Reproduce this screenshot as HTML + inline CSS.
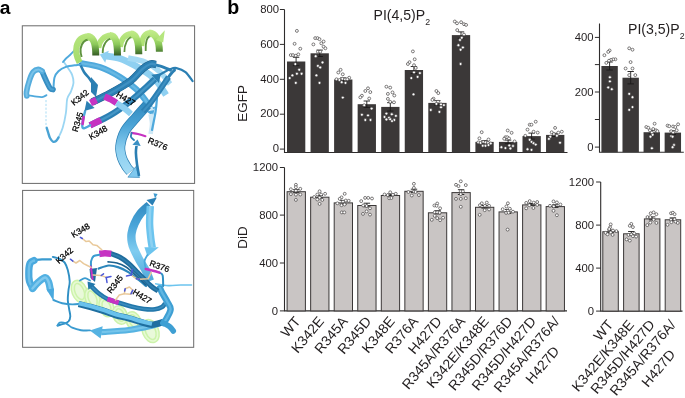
<!DOCTYPE html>
<html><head><meta charset="utf-8"><title>Figure</title>
<style>html,body{margin:0;padding:0;background:#fff}svg{display:block}</style></head>
<body>
<svg width="685" height="398" viewBox="0 0 685 398">
<rect width="685" height="398" fill="#fff"/>
<g><defs><linearGradient id="gleg" x1="0" y1="30" x2="0" y2="56" gradientUnits="userSpaceOnUse"><stop offset="0" stop-color="#c3ec8c"/><stop offset="0.27" stop-color="#b2e379"/><stop offset="0.55" stop-color="#8cc95a"/><stop offset="0.8" stop-color="#568a39"/><stop offset="1" stop-color="#335722"/></linearGradient><linearGradient id="garc" x1="0" y1="30" x2="0" y2="62" gradientUnits="userSpaceOnUse"><stop offset="0" stop-color="#c3ec8c"/><stop offset="0.22" stop-color="#b2e379"/><stop offset="1" stop-color="#a6dc6e"/></linearGradient><linearGradient id="gd3" x1="0" y1="100" x2="0" y2="175" gradientUnits="userSpaceOnUse"><stop offset="0" stop-color="#2f86bb"/><stop offset="0.33" stop-color="#4aa3d6"/><stop offset="0.66" stop-color="#8ccff0"/><stop offset="1" stop-color="#a5dcf5"/></linearGradient></defs>
<rect x="22.3" y="25.8" width="172.3" height="157.6" fill="#fff" stroke="#6a6a6a" stroke-width="1"/>
<path d="M63.4 61.3C64.2 62.5 67.0 66.5 68.5 68.8C70.0 71.1 71.4 72.8 72.2 75.1C73.0 77.4 73.7 79.9 73.5 82.6C73.3 85.3 72.0 88.7 71.0 91.4C70.0 94.1 68.0 95.3 67.2 98.9C66.4 102.5 66.7 108.0 65.9 112.8C65.2 117.6 63.9 123.7 62.7 127.8C61.5 131.9 59.2 135.9 58.5 137.5" fill="none" stroke="#9bd6f3" stroke-width="1.8" stroke-linecap="round" stroke-linejoin="round" />
<path d="M58.5 137.5C58.1 138.1 56.9 140.3 56.0 141.0C55.1 141.7 54.1 142.2 53.1 141.7C52.1 141.2 50.8 139.4 50.0 138.0C49.2 136.6 48.8 134.7 48.3 133.0C47.8 131.3 47.0 128.7 46.7 127.8" fill="none" stroke="#4aa3d4" stroke-width="2.4" stroke-linecap="round" stroke-linejoin="round" />
<path d="M46 100V127" stroke="#a9dcf5" stroke-width="1" stroke-dasharray="2.2 1.6" fill="none"/>
<path d="M63.0 62.0C63.5 61.4 64.8 59.7 66.0 58.5C67.2 57.3 68.5 56.4 70.0 55.0C71.5 53.6 74.2 50.8 75.0 50.0" fill="none" stroke="#4fa9dc" stroke-width="1.8" stroke-linecap="round" stroke-linejoin="round" />
<path d="M106.0 56.0C108.3 56.4 115.3 57.0 120.0 58.5C124.7 60.0 129.0 62.2 134.0 65.0C139.0 67.8 146.0 72.0 150.0 75.0C154.0 78.0 155.3 79.7 158.0 83.0C160.7 86.3 164.7 93.0 166.0 95.0" fill="none" stroke="#8fd0f1" stroke-width="6.6" stroke-linecap="butt" stroke-linejoin="round"/>
<path d="M99.8 54.6L108.8 50.7L105.2 62.8Z" fill="#8fd0f1"/>
<path d="M128.0 58.0C130.8 58.7 139.7 59.7 145.0 62.0C150.3 64.3 155.8 68.3 160.0 72.0C164.2 75.7 168.3 82.0 170.0 84.0" fill="none" stroke="#a5daf4" stroke-width="5.5" stroke-linecap="butt" stroke-linejoin="round"/>
<path d="M80.0 63.0C83.3 63.7 93.4 64.8 100.1 67.1C106.8 69.4 114.2 73.4 120.2 77.1C126.2 80.8 132.0 85.2 136.3 89.2C140.6 93.2 143.7 97.9 146.0 101.0C148.3 104.1 149.3 106.8 150.0 108.0" fill="none" stroke="#4fa9dc" stroke-width="6.2" stroke-linecap="butt" stroke-linejoin="round"/><path d="M80.0 63.0C83.3 63.7 93.4 64.8 100.1 67.1C106.8 69.4 114.2 73.4 120.2 77.1C126.2 80.8 132.0 85.2 136.3 89.2C140.6 93.2 143.7 97.9 146.0 101.0C148.3 104.1 149.3 106.8 150.0 108.0" fill="none" stroke="#7cc4ea" stroke-width="2.2" stroke-linecap="butt" stroke-linejoin="round" opacity="0.55"/>
<path d="M153.0 116.0L144.9 110.6L155.1 106.5Z" fill="#4fa9dc"/>
<path d="M150.6 134.0C150.8 132.3 152.0 127.3 152.0 124.0C152.0 120.7 150.8 115.7 150.5 114.0" fill="none" stroke="#cfe9f6" stroke-width="4.5" stroke-linecap="butt" stroke-linejoin="round"/>
<path d="M148.8 104.0L154.5 110.1L145.4 111.7Z" fill="#cfe9f6"/>
<path d="M157.0 98.0C156.8 100.3 156.3 106.7 155.5 112.0C154.7 117.3 152.6 127.0 152.0 130.0" fill="none" stroke="#4fa9dc" stroke-width="2.2" stroke-linecap="round" stroke-linejoin="round" />
<path d="M80.0 64.0C80.7 65.3 82.5 69.7 84.0 72.0C85.5 74.3 87.5 76.0 89.0 78.0C90.5 80.0 92.3 83.0 93.0 84.0" fill="none" stroke="#2b7fb3" stroke-width="2.6" stroke-linecap="round" stroke-linejoin="round" />
<path d="M91 77L98 85L96 97L91 92Z" fill="#2b7fb3"/>
<path d="M147.0 105.0C145.2 107.1 139.7 113.2 136.0 117.5C132.3 121.8 127.6 126.2 125.0 131.0C122.4 135.8 120.8 141.5 120.3 146.0C119.8 150.5 120.9 154.4 122.0 158.0C123.1 161.6 125.6 165.2 127.0 167.5C128.4 169.8 129.9 170.8 130.5 171.5" fill="none" stroke="#2b7fb3" stroke-width="10" />
<path d="M147.0 105.0C145.2 107.1 139.7 113.2 136.0 117.5C132.3 121.8 127.6 126.2 125.0 131.0C122.4 135.8 120.8 141.5 120.3 146.0C119.8 150.5 120.9 154.4 122.0 158.0C123.1 161.6 125.6 165.2 127.0 167.5C128.4 169.8 129.9 170.8 130.5 171.5" fill="none" stroke="url(#gd3)" stroke-width="8.6" />
<path d="M139.5 177.5L127.9 177.2L135.8 166.6Z" fill="#7fc8ee" stroke="#2b7fb3" stroke-width="0.6" stroke-linejoin="round"/>
<path d="M174.5 70.1C173.9 70.7 172.2 72.3 171.0 73.8C169.8 75.3 167.7 78.3 167.0 79.2" fill="none" stroke="#2b7fb3" stroke-width="3.0" stroke-linecap="round" stroke-linejoin="round" />
<path d="M168.5 77.1C167.2 79.1 163.4 84.8 160.4 89.2C157.4 93.6 153.3 99.5 150.4 103.2C147.5 106.9 144.2 110.1 143.0 111.5" fill="none" stroke="#2b7fb3" stroke-width="5.6" stroke-linecap="butt" stroke-linejoin="round"/><path d="M168.5 77.1C167.2 79.1 163.4 84.8 160.4 89.2C157.4 93.6 153.3 99.5 150.4 103.2C147.5 106.9 144.2 110.1 143.0 111.5" fill="none" stroke="#4f9fce" stroke-width="2.0" stroke-linecap="butt" stroke-linejoin="round" opacity="0.55"/>
<path d="M139.0 176.0C138.7 173.9 137.4 167.2 136.9 163.3C136.4 159.4 136.0 155.6 135.9 152.7C135.8 149.8 136.4 147.1 136.5 146.0" fill="none" stroke="#2b7fb3" stroke-width="2.6" stroke-linecap="butt" stroke-linejoin="round"/>
<path d="M137.5 139.5L140.7 146.1L132.4 144.8Z" fill="#3a90c4"/>
<path d="M131.6 132.9C132.7 133.1 135.7 133.4 138.0 134.0C140.3 134.6 144.2 135.8 145.4 136.2" fill="none" stroke="#c633c2" stroke-width="2.2" stroke-linecap="round" stroke-linejoin="round" />
<path d="M131.6 133.0C131.5 133.7 130.6 135.8 131.0 137.0C131.4 138.2 133.5 139.5 134.0 140.0" fill="none" stroke="#2b7fb3" stroke-width="1.8" stroke-linecap="round" stroke-linejoin="round" />
<path d="M90.1 125.3C93.4 123.6 103.5 119.3 110.2 115.3C116.9 111.3 124.3 105.9 130.3 101.2C136.3 96.5 142.3 90.8 146.4 87.1C150.5 83.4 153.6 80.3 155.0 79.0" fill="none" stroke="#2b7fb3" stroke-width="6.4" stroke-linecap="butt" stroke-linejoin="round"/><path d="M90.1 125.3C93.4 123.6 103.5 119.3 110.2 115.3C116.9 111.3 124.3 105.9 130.3 101.2C136.3 96.5 142.3 90.8 146.4 87.1C150.5 83.4 153.6 80.3 155.0 79.0" fill="none" stroke="#5aa9d6" stroke-width="2.2" stroke-linecap="butt" stroke-linejoin="round" opacity="0.55"/>
<path d="M161.0 73.5L158.9 83.0L151.3 74.8Z" fill="#2b7fb3"/>
<path d="M90.1 125.3C91.1 124.8 94.2 123.3 96.0 122.4C97.8 121.5 100.2 120.4 101.0 120.0" fill="none" stroke="#c633c2" stroke-width="6.4" stroke-linecap="butt" stroke-linejoin="round"/>
<path d="M160.0 74.5C161.8 73.6 167.8 70.2 170.5 69.1C173.2 68.0 174.0 67.6 176.5 68.1C179.0 68.6 182.8 69.9 185.5 72.1C188.2 74.3 191.4 79.6 192.6 81.1" fill="none" stroke="#2b7fb3" stroke-width="2.2" stroke-linecap="round" stroke-linejoin="round" />
<path d="M85.1 111.3C84.8 112.4 83.9 115.5 83.4 118.0C82.9 120.5 82.2 124.3 82.3 126.0C82.4 127.7 82.7 128.4 84.0 128.3C85.3 128.2 89.1 125.8 90.1 125.3" fill="none" stroke="#4fa9dc" stroke-width="2.4" stroke-linecap="round" stroke-linejoin="round" />
<path d="M83.6 117.0C83.4 118.2 82.8 122.8 82.6 124.0" fill="none" stroke="#c633c2" stroke-width="2.6" stroke-linecap="round" stroke-linejoin="round" />
<path d="M150.4 64.0C152.1 64.3 157.1 65.1 160.4 66.1C163.8 67.1 168.8 69.4 170.5 70.1" fill="none" stroke="#2b7fb3" stroke-width="3.0" stroke-linecap="round" stroke-linejoin="round" />
<path d="M92.1 102.2C95.1 100.7 103.8 96.7 110.2 93.2C116.6 89.7 125.0 85.1 130.3 81.1C135.7 77.1 139.0 71.9 142.3 69.1C145.7 66.2 148.1 64.8 150.4 64.0C152.7 63.2 155.1 64.5 156.0 64.6" fill="none" stroke="#1c5b85" stroke-width="7.3999999999999995" stroke-linecap="butt" stroke-linejoin="round"/><path d="M92.1 102.2C95.1 100.7 103.8 96.7 110.2 93.2C116.6 89.7 125.0 85.1 130.3 81.1C135.7 77.1 139.0 71.9 142.3 69.1C145.7 66.2 148.1 64.8 150.4 64.0C152.7 63.2 155.1 64.5 156.0 64.6" fill="none" stroke="#2b7fb3" stroke-width="6.6" stroke-linecap="butt" stroke-linejoin="round"/><path d="M92.1 102.2C95.1 100.7 103.8 96.7 110.2 93.2C116.6 89.7 125.0 85.1 130.3 81.1C135.7 77.1 139.0 71.9 142.3 69.1C145.7 66.2 148.1 64.8 150.4 64.0C152.7 63.2 155.1 64.5 156.0 64.6" fill="none" stroke="#4f9fce" stroke-width="2.3" stroke-linecap="butt" stroke-linejoin="round" opacity="0.55"/>
<path d="M84.5 111.0L86.6 100.7L94.6 108.1Z" fill="#2b7fb3"/>
<path d="M90.5 103.0C91.5 102.5 95.5 100.5 96.5 100.0" fill="none" stroke="#c633c2" stroke-width="6.8" stroke-linecap="butt" stroke-linejoin="round"/>
<path d="M104.5 96.5C105.6 97.0 109.0 98.4 111.0 99.5C113.0 100.6 115.6 102.4 116.5 103.0" fill="none" stroke="#c633c2" stroke-width="6.4" stroke-linecap="butt" stroke-linejoin="round"/>
<path d="M116.5 103.0C117.8 103.8 121.6 106.2 124.0 108.0C126.4 109.8 129.8 113.0 131.0 114.0" fill="none" stroke="#8fd0f1" stroke-width="6" stroke-linecap="butt" stroke-linejoin="round"/>
<path d="M26.4 95.2C27.8 95.4 32.0 96.1 34.6 96.4C37.2 96.7 40.1 97.3 42.1 97.1C44.1 96.9 45.8 95.5 46.5 95.2" fill="none" stroke="#4fa9dc" stroke-width="1.8" stroke-linecap="round" stroke-linejoin="round" />
<path d="M53.4 89.0C53.6 87.1 53.7 80.5 54.5 77.6C55.3 74.6 56.5 73.1 58.4 71.3C60.3 69.5 62.8 68.0 65.9 66.9C69.0 65.9 74.7 65.4 77.2 65.0C79.7 64.6 80.4 64.5 81.0 64.4" fill="none" stroke="#4fa9dc" stroke-width="2.0" stroke-linecap="round" stroke-linejoin="round" />
<path d="M42.1 71.3C42.7 72.8 44.5 77.3 45.9 80.1C47.2 82.9 49.0 86.7 50.2 88.3C51.4 89.9 52.5 89.3 53.0 89.5" fill="none" stroke="#378ec2" stroke-width="5.6" stroke-linecap="round" stroke-linejoin="round"/><path d="M42.1 71.3C42.7 72.8 44.5 77.3 45.9 80.1C47.2 82.9 49.0 86.7 50.2 88.3C51.4 89.9 52.5 89.3 53.0 89.5" fill="none" stroke="#5fb2e0" stroke-width="2.0" stroke-linecap="round" stroke-linejoin="round" opacity="0.55"/>
<path d="M26.8 96.0C26.8 95.3 26.1 94.7 26.5 92.0C26.9 89.3 28.4 83.4 29.5 80.1C30.6 76.8 31.8 73.7 33.3 71.9C34.8 70.1 36.8 69.5 38.3 69.4C39.8 69.3 41.5 71.0 42.1 71.3" fill="none" stroke="#55addd" stroke-width="5.6" stroke-linecap="round" stroke-linejoin="round"/><path d="M26.8 96.0C26.8 95.3 26.1 94.7 26.5 92.0C26.9 89.3 28.4 83.4 29.5 80.1C30.6 76.8 31.8 73.7 33.3 71.9C34.8 70.1 36.8 69.5 38.3 69.4C39.8 69.3 41.5 71.0 42.1 71.3" fill="none" stroke="#9ad6f3" stroke-width="2.0" stroke-linecap="round" stroke-linejoin="round" opacity="0.55"/>
<path d="M79.6 62.4C76.6 57 75.6 51.5 76.6 46.5C78 40.5 82 36.6 88.6 36.4" fill="none" stroke="url(#garc)" stroke-width="6.2"/>
<path d="M98.5 48C99.0 41 104.0 35.4 111.1 35.4" fill="none" stroke="url(#garc)" stroke-width="5.6"/>
<path d="M120.2 47C120.7 40 124.80000000000001 33.9 131.9 33.9" fill="none" stroke="url(#garc)" stroke-width="5.6"/>
<path d="M141.5 46C142.0 39 143.5 32.9 150.6 32.9" fill="none" stroke="url(#garc)" stroke-width="5.6"/>
<path d="M81.6 57C79.8 51 80.4 45.5 83.5 42C85 40.5 86.5 39.8 88.5 39.6" fill="none" stroke="#5f933e" stroke-width="2"/>
<path d="M102.7 53C102.5 45 107.0 38.6 111.5 38.6" fill="none" stroke="#5f933e" stroke-width="1.8"/>
<path d="M124.4 52C124.2 44 127.80000000000001 37.1 132.3 37.1" fill="none" stroke="#5f933e" stroke-width="1.8"/>
<path d="M145.7 51C145.5 43 146.5 36.1 151 36.1" fill="none" stroke="#5f933e" stroke-width="1.8"/>
<path d="M87.4 36.4C93 36.4 95.8 42.9 95.8 55.5" fill="none" stroke="url(#gleg)" stroke-width="7"/>
<path d="M109.9 35.4C115.5 35.4 117.5 41.9 117.5 55.5" fill="none" stroke="url(#gleg)" stroke-width="7"/>
<path d="M130.70000000000002 33.9C136.3 33.9 138.8 40.4 138.8 54.2" fill="none" stroke="url(#gleg)" stroke-width="7"/>
<path d="M149.4 32.9C155 32.9 159.4 39.4 159.4 51.7" fill="none" stroke="url(#gleg)" stroke-width="7"/>
<path d="M155.8 40L164.8 30.2L163.2 42.5Z" fill="#b5e67e"/>
<text transform="translate(74 106) rotate(-39)" font-family="Liberation Sans, Arial, sans-serif" font-size="8.5" fill="#000" stroke="#000" stroke-width="0.25">K342</text>
<text transform="translate(77.5 132.6) rotate(-73)" font-family="Liberation Sans, Arial, sans-serif" font-size="8.5" fill="#000" stroke="#000" stroke-width="0.25">R345</text>
<text transform="translate(91 140) rotate(-30)" font-family="Liberation Sans, Arial, sans-serif" font-size="8.5" fill="#000" stroke="#000" stroke-width="0.25">K348</text>
<text transform="translate(115.6 96.3) rotate(30)" font-family="Liberation Sans, Arial, sans-serif" font-size="8.5" fill="#000" stroke="#000" stroke-width="0.25">H427</text>
<text transform="translate(147.3 142.8) rotate(22)" font-family="Liberation Sans, Arial, sans-serif" font-size="8.5" fill="#000" stroke="#000" stroke-width="0.25">R376</text></g>
<g><defs><linearGradient id="ghp" x1="0" y1="200" x2="0" y2="285" gradientUnits="userSpaceOnUse"><stop offset="0" stop-color="#2f88be"/><stop offset="0.3" stop-color="#4aa5d9"/><stop offset="0.6" stop-color="#7fccf0"/><stop offset="1" stop-color="#4aa5d9"/></linearGradient></defs>
<rect x="22.6" y="190.4" width="171.1" height="156.9" fill="#fff" stroke="#6a6a6a" stroke-width="1"/>
<ellipse cx="79.5" cy="291.5" rx="6" ry="10" transform="rotate(-22 79.5 291.5)" fill="#e9f9da" stroke="#cdf3ab" stroke-width="4.6"/>
<ellipse cx="79.5" cy="291.5" rx="6" ry="10" transform="rotate(-22 79.5 291.5)" fill="none" stroke="#e6fad3" stroke-width="1.6"/>
<ellipse cx="92.5" cy="298.5" rx="5.5" ry="9.5" transform="rotate(-22 92.5 298.5)" fill="#e9f9da" stroke="#cdf3ab" stroke-width="4.6"/>
<ellipse cx="92.5" cy="298.5" rx="5.5" ry="9.5" transform="rotate(-22 92.5 298.5)" fill="none" stroke="#e6fad3" stroke-width="1.6"/>
<ellipse cx="106.5" cy="307" rx="5.5" ry="8.5" transform="rotate(-22 106.5 307)" fill="#e9f9da" stroke="#cdf3ab" stroke-width="4.6"/>
<ellipse cx="106.5" cy="307" rx="5.5" ry="8.5" transform="rotate(-22 106.5 307)" fill="none" stroke="#e6fad3" stroke-width="1.6"/>
<ellipse cx="120" cy="315" rx="5.5" ry="8" transform="rotate(-22 120 315)" fill="#e9f9da" stroke="#cdf3ab" stroke-width="4.6"/>
<ellipse cx="120" cy="315" rx="5.5" ry="8" transform="rotate(-22 120 315)" fill="none" stroke="#e6fad3" stroke-width="1.6"/>
<ellipse cx="133.5" cy="321" rx="5.5" ry="8" transform="rotate(-22 133.5 321)" fill="#e9f9da" stroke="#cdf3ab" stroke-width="4.6"/>
<ellipse cx="133.5" cy="321" rx="5.5" ry="8" transform="rotate(-22 133.5 321)" fill="none" stroke="#e6fad3" stroke-width="1.6"/>
<ellipse cx="150.5" cy="331" rx="6.5" ry="10.5" transform="rotate(-22 150.5 331)" fill="#e9f9da" stroke="#cdf3ab" stroke-width="4.6"/>
<ellipse cx="150.5" cy="331" rx="6.5" ry="10.5" transform="rotate(-22 150.5 331)" fill="none" stroke="#e6fad3" stroke-width="1.6"/>
<path d="M101.0 332.2C105.6 331.8 120.3 331.1 128.8 330.0C137.3 328.9 146.1 326.9 152.0 325.6C157.9 324.3 162.0 322.6 164.0 322.0" fill="none" stroke="#56b3e2" stroke-width="6.2" stroke-linecap="butt" stroke-linejoin="round"/><path d="M101.0 332.2C105.6 331.8 120.3 331.1 128.8 330.0C137.3 328.9 146.1 326.9 152.0 325.6C157.9 324.3 162.0 322.6 164.0 322.0" fill="none" stroke="#8fd3f3" stroke-width="2.2" stroke-linecap="butt" stroke-linejoin="round" opacity="0.55"/>
<path d="M89.8 330.4L102.7 326.3L100.6 338.5Z" fill="#56b3e2"/>
<path d="M52.8 256.9C53.9 257.2 57.7 257.9 59.7 258.8C61.7 259.8 63.4 260.7 64.7 262.6C66.0 264.5 67.0 267.0 67.8 270.1C68.6 273.2 69.6 278.1 69.7 281.4C69.8 284.7 68.8 286.9 68.5 290.0C68.2 293.1 67.7 296.9 67.8 300.0C67.9 303.1 68.7 306.1 69.1 308.8C69.5 311.5 70.4 314.3 70.3 316.4C70.2 318.5 69.7 320.1 68.5 321.4C67.3 322.6 65.2 323.2 63.4 323.9C61.6 324.6 58.5 325.3 57.5 325.6" fill="none" stroke="#2f8fc4" stroke-width="1.9" stroke-linecap="round" stroke-linejoin="round" />
<path d="M57.5 325.6C57.9 325.1 58.3 323.0 59.7 322.6C61.1 322.2 63.8 322.5 65.9 323.3C68.0 324.1 69.7 326.6 72.2 327.7C74.7 328.8 78.0 329.8 81.0 330.2C84.0 330.6 88.5 330.4 90.0 330.4" fill="none" stroke="#3a9bd0" stroke-width="1.9" stroke-linecap="round" stroke-linejoin="round" />
<path d="M53.4 300.0C54.9 300.5 59.1 302.5 62.2 303.2C65.3 303.9 69.3 304.3 72.2 304.4C75.1 304.5 78.5 303.9 79.8 303.8" fill="none" stroke="#3a9bd0" stroke-width="1.9" stroke-linecap="round" stroke-linejoin="round" />
<path d="M50.9 259.4C49.4 259.4 44.9 259.2 42.0 259.3C39.1 259.4 34.8 260.0 33.3 260.1" fill="none" stroke="#3a9bd0" stroke-width="2.2" stroke-linecap="round" stroke-linejoin="round" />
<path d="M34.0 260.6C33.4 261.0 31.1 261.3 30.2 263.0C29.3 264.7 28.9 267.9 28.8 271.0C28.7 274.1 28.8 278.7 29.5 281.5C30.2 284.3 32.2 286.9 32.8 288.0" fill="none" stroke="#4aa9de" stroke-width="7.2" stroke-linecap="round" stroke-linejoin="round"/><path d="M34.0 260.6C33.4 261.0 31.1 261.3 30.2 263.0C29.3 264.7 28.9 267.9 28.8 271.0C28.7 274.1 28.8 278.7 29.5 281.5C30.2 284.3 32.2 286.9 32.8 288.0" fill="none" stroke="#8dd2f3" stroke-width="2.5" stroke-linecap="round" stroke-linejoin="round" opacity="0.55"/>
<path d="M32.5 288.5C33.5 287.4 36.4 283.8 38.5 282.0C40.6 280.2 43.5 277.6 45.2 277.6C46.9 277.6 47.8 280.1 48.6 282.0C49.4 283.9 49.9 287.8 50.2 289.0" fill="none" stroke="#52b0e2" stroke-width="7.2" stroke-linecap="round" stroke-linejoin="round"/><path d="M32.5 288.5C33.5 287.4 36.4 283.8 38.5 282.0C40.6 280.2 43.5 277.6 45.2 277.6C46.9 277.6 47.8 280.1 48.6 282.0C49.4 283.9 49.9 287.8 50.2 289.0" fill="none" stroke="#a5dcf6" stroke-width="2.5" stroke-linecap="round" stroke-linejoin="round" opacity="0.55"/>
<path d="M46.6 289.5L54 288.5L53.6 301.2Z" fill="#4aa9de"/>
<path d="M78.6 304.0C80.7 304.5 86.9 306.0 91.1 307.1C95.3 308.2 99.5 309.5 103.7 310.9C107.9 312.3 112.0 314.1 116.2 315.3C120.4 316.6 124.6 317.2 128.8 318.4C133.0 319.5 137.4 321.1 141.3 322.2C145.2 323.2 148.4 324.7 152.0 324.7C155.6 324.7 161.2 322.4 163.0 322.0" fill="none" stroke="#1f6fa0" stroke-width="6.4" stroke-linecap="butt" stroke-linejoin="round"/>
<path d="M78.6 303.2C80.7 303.7 86.9 305.1 91.1 306.2C95.3 307.3 99.5 308.6 103.7 310.0C107.9 311.4 112.0 313.1 116.2 314.4C120.4 315.6 124.6 316.4 128.8 317.5C133.0 318.6 137.4 320.2 141.3 321.3C145.2 322.4 150.2 323.4 152.0 323.8" fill="none" stroke="#69c1ec" stroke-width="4.2" stroke-linecap="butt" stroke-linejoin="round"/>
<path d="M91.5 286.5C92.7 287.6 95.9 291.2 98.6 293.3C101.2 295.4 104.1 297.4 107.4 299.0C110.8 300.6 114.7 301.4 118.7 302.7C122.7 303.9 127.1 305.4 131.3 306.5C135.5 307.6 139.9 308.5 143.8 309.0C147.8 309.5 152.0 309.6 155.0 309.3C158.0 309.0 160.3 308.0 162.0 307.0C163.7 306.0 164.5 304.1 165.0 303.5" fill="none" stroke="#2277aa" stroke-width="4.6" stroke-linecap="butt" stroke-linejoin="round"/><path d="M91.5 286.5C92.7 287.6 95.9 291.2 98.6 293.3C101.2 295.4 104.1 297.4 107.4 299.0C110.8 300.6 114.7 301.4 118.7 302.7C122.7 303.9 127.1 305.4 131.3 306.5C135.5 307.6 139.9 308.5 143.8 309.0C147.8 309.5 152.0 309.6 155.0 309.3C158.0 309.0 160.3 308.0 162.0 307.0C163.7 306.0 164.5 304.1 165.0 303.5" fill="none" stroke="#4f9fce" stroke-width="1.6" stroke-linecap="butt" stroke-linejoin="round" opacity="0.55"/>
<path d="M87.5 281.5L95.5 283.9L88.4 289.8Z" fill="#2277aa"/>
<path d="M107.4 299.0C108.3 299.3 111.1 300.4 113.0 301.0C114.9 301.6 117.8 302.4 118.7 302.7" fill="none" stroke="#c633c2" stroke-width="4.8" stroke-linecap="butt" stroke-linejoin="round"/>
<path d="M160.0 288.0C160.3 288.8 160.8 290.4 162.0 292.6C163.2 294.8 165.6 298.6 167.0 301.3C168.4 304.0 170.6 306.2 170.6 308.9C170.6 311.6 168.2 315.3 167.0 317.7C165.8 320.1 164.0 322.1 163.4 323.0" fill="none" stroke="#3e9fd3" stroke-width="6.5" stroke-linecap="round" stroke-linejoin="round"/><path d="M160.0 288.0C160.3 288.8 160.8 290.4 162.0 292.6C163.2 294.8 165.6 298.6 167.0 301.3C168.4 304.0 170.6 306.2 170.6 308.9C170.6 311.6 168.2 315.3 167.0 317.7C165.8 320.1 164.0 322.1 163.4 323.0" fill="none" stroke="#7cc8ee" stroke-width="2.3" stroke-linecap="round" stroke-linejoin="round" opacity="0.55"/>
<path d="M163.4 323.0C164.4 323.6 167.8 325.2 169.5 326.5C171.2 327.8 172.7 330.2 173.3 331.0" fill="none" stroke="#3e9fd3" stroke-width="5.5" stroke-linecap="round" stroke-linejoin="round"/>
<path d="M155.7 283.8C157.8 284.1 164.1 285.4 168.3 285.6C172.5 285.8 176.9 285.1 180.8 285.0C184.7 284.9 189.7 285.0 191.5 285.0" fill="none" stroke="#6cc4ee" stroke-width="1.6" stroke-linecap="round" stroke-linejoin="round" />
<path d="M149.5 205.0C148.0 206.4 143.0 210.4 140.5 213.5C138.0 216.6 136.1 220.1 134.6 223.4C133.1 226.7 132.1 230.3 131.6 233.4C131.1 236.5 131.4 239.4 131.8 242.0C132.2 244.6 132.7 246.0 134.0 249.0C135.3 252.0 137.4 256.3 139.4 260.0C141.4 263.7 144.2 267.5 146.0 271.0C147.8 274.5 149.3 279.3 150.0 281.0" fill="none" stroke="url(#ghp)" stroke-width="8.4"/>
<path d="M146.5 200L156.8 197.5L152.5 205.5Z" fill="#2a7fb4"/>
<path d="M153.5 193.2L157.6 194L155 198.5Z" fill="#3f9bd0"/>
<path d="M150.3 206.0C150.2 208.9 149.5 218.1 149.6 223.4C149.7 228.7 150.4 234.0 150.8 238.0C151.2 242.0 152.0 245.9 152.2 247.5" fill="none" stroke="#6cc4ee" stroke-width="7.4" stroke-linecap="butt" stroke-linejoin="round"/><path d="M150.3 206.0C150.2 208.9 149.5 218.1 149.6 223.4C149.7 228.7 150.4 234.0 150.8 238.0C151.2 242.0 152.0 245.9 152.2 247.5" fill="none" stroke="#a8ddf6" stroke-width="2.6" stroke-linecap="butt" stroke-linejoin="round" opacity="0.55"/>
<path d="M144.4 247.3L158.8 247.3L147.5 256.5Z" fill="#6cc4ee"/>
<path d="M147.5 255.0C147.0 256.0 144.9 258.7 144.6 261.0C144.3 263.3 145.5 267.3 145.7 268.6" fill="none" stroke="#4aa9dc" stroke-width="1.8" stroke-linecap="round" stroke-linejoin="round" />
<path d="M159.5 272.6C160.0 273.0 162.0 273.0 162.6 275.2C163.2 277.4 163.1 284.2 163.2 286.0" fill="none" stroke="#2f8fc4" stroke-width="2.0" stroke-linecap="round" stroke-linejoin="round" />
<path d="M145.7 269.0C146.8 269.2 149.7 269.9 152.0 270.5C154.3 271.1 158.2 272.2 159.5 272.6" fill="none" stroke="#c633c2" stroke-width="2.4" stroke-linecap="round" stroke-linejoin="round" />
<path d="M98.6 268.6C100.3 268.1 105.3 265.7 108.7 265.5C112.1 265.3 115.3 266.2 118.7 267.4C122.1 268.5 125.5 270.3 128.8 272.4C132.2 274.5 135.9 277.7 138.8 280.0C141.7 282.3 144.8 285.0 146.0 286.0" fill="none" stroke="#2b86bb" stroke-width="2.2" stroke-linecap="round" stroke-linejoin="round" />
<path d="M108.0 261.9C109.5 262.1 114.0 262.1 117.0 263.0C120.0 263.9 122.8 264.9 126.0 267.0C129.2 269.1 132.7 272.5 136.0 275.5C139.3 278.5 144.3 283.4 146.0 285.0" fill="none" stroke="#1d618d" stroke-width="1.6" stroke-linecap="round" stroke-linejoin="round" />
<path d="M110.0 253.4C111.7 254.1 116.9 255.6 120.0 257.3C123.1 259.0 126.1 261.3 128.8 263.6C131.5 265.9 133.8 268.7 136.3 271.2C138.8 273.7 141.4 276.2 143.8 278.7C146.2 281.2 148.6 283.9 151.0 286.0C153.4 288.1 156.8 290.2 158.0 291.0" fill="none" stroke="#1f6c9c" stroke-width="5.0" stroke-linecap="butt" stroke-linejoin="round"/><path d="M110.0 253.4C111.7 254.1 116.9 255.6 120.0 257.3C123.1 259.0 126.1 261.3 128.8 263.6C131.5 265.9 133.8 268.7 136.3 271.2C138.8 273.7 141.4 276.2 143.8 278.7C146.2 281.2 148.6 283.9 151.0 286.0C153.4 288.1 156.8 290.2 158.0 291.0" fill="none" stroke="#3d8ec0" stroke-width="1.8" stroke-linecap="butt" stroke-linejoin="round" opacity="0.55"/>
<path d="M99.3 253.9C100.2 253.8 103.0 253.3 105.0 253.3C107.0 253.3 110.2 253.7 111.2 253.8" fill="none" stroke="#c633c2" stroke-width="6.6" stroke-linecap="butt" stroke-linejoin="round"/>
<path d="M99.3 254.8C98.3 255.0 95.0 255.1 93.6 256.1C92.2 257.2 91.5 259.2 91.1 261.1C90.7 263.0 91.1 266.3 91.1 267.4" fill="none" stroke="#3a9bd0" stroke-width="2.0" stroke-linecap="round" stroke-linejoin="round" />
<path d="M89.5 269L97 268L95 282L90.5 278Z" fill="#1f6c9c"/>
<path d="M90.8 266.5L92.6 279.0" fill="none" stroke="#c633c2" stroke-width="2.0" stroke-linecap="round" stroke-linejoin="round"/>
<path d="M80.0 280.5C80.8 280.1 83.3 278.2 85.0 278.2C86.7 278.2 89.2 280.1 90.0 280.5" fill="none" stroke="#3a9bd0" stroke-width="1.8" stroke-linecap="round" stroke-linejoin="round" />
<path d="M82.3 238.5L86.1 241.6L89.2 241.0L93.0 244.8L96.8 245.4L101.8 249.8" fill="none" stroke="#e9c99a" stroke-width="1.5" stroke-linecap="round" stroke-linejoin="round"/>
<path d="M80.4 237.3L82.3 238.5" fill="none" stroke="#4a57d8" stroke-width="1.5" stroke-linecap="round" stroke-linejoin="round"/>
<path d="M72.9 261.1L76.0 263.0L79.8 260.5L83.6 263.6L87.3 265.5L91.1 267.4" fill="none" stroke="#e9c99a" stroke-width="1.5" stroke-linecap="round" stroke-linejoin="round"/>
<path d="M70.4 259.2L72.9 261.1" fill="none" stroke="#4a57d8" stroke-width="1.5" stroke-linecap="round" stroke-linejoin="round"/>
<path d="M93.0 274.9L101.2 275.5L106.2 277.4" fill="none" stroke="#e9c99a" stroke-width="1.5" stroke-linecap="round" stroke-linejoin="round"/>
<path d="M101.2 275.5L103.5 273.8" fill="none" stroke="#4a57d8" stroke-width="1.5" stroke-linecap="round" stroke-linejoin="round"/>
<path d="M106.2 277.4L107.0 282.5" fill="none" stroke="#4a57d8" stroke-width="1.5" stroke-linecap="round" stroke-linejoin="round"/>
<path d="M106.2 277.4L111.0 276.5" fill="none" stroke="#4a57d8" stroke-width="1.5" stroke-linecap="round" stroke-linejoin="round"/>
<path d="M151.3 272.4L148.2 278.7L139.4 279.3L136.2 278.7L131.2 275.0" fill="none" stroke="#e9c99a" stroke-width="1.5" stroke-linecap="round" stroke-linejoin="round"/>
<path d="M131.2 275.0L132.5 269.5" fill="none" stroke="#4a57d8" stroke-width="1.5" stroke-linecap="round" stroke-linejoin="round"/>
<path d="M131.2 275.0L126.5 276.0" fill="none" stroke="#4a57d8" stroke-width="1.5" stroke-linecap="round" stroke-linejoin="round"/>
<path d="M139.4 279.3L136.2 278.7" fill="none" stroke="#4a57d8" stroke-width="1.5" stroke-linecap="round" stroke-linejoin="round"/>
<path d="M115.5 300.0L119.3 295.0L124.3 293.8" fill="none" stroke="#e9c99a" stroke-width="1.5" stroke-linecap="round" stroke-linejoin="round"/>
<path d="M124.3 293.8L125.2 288.8L129.5 287L132.8 290.2L130.5 294.3Z" fill="none" stroke="#e9c99a" stroke-width="1.5" stroke-linejoin="round"/>
<path d="M125.2 288.8L124.6 291.0" fill="none" stroke="#4a57d8" stroke-width="1.5" stroke-linecap="round" stroke-linejoin="round"/>
<path d="M132.8 290.2L131.0 293.8" fill="none" stroke="#4a57d8" stroke-width="1.5" stroke-linecap="round" stroke-linejoin="round"/>
<text transform="translate(73.6 238.0) rotate(-31)" font-family="Liberation Sans, Arial, sans-serif" font-size="8.5" fill="#000" stroke="#000" stroke-width="0.25">K348</text>
<text transform="translate(58.9 264.3) rotate(-42)" font-family="Liberation Sans, Arial, sans-serif" font-size="8.5" fill="#000" stroke="#000" stroke-width="0.25">K342</text>
<text transform="translate(111 294) rotate(-52)" font-family="Liberation Sans, Arial, sans-serif" font-size="8.5" fill="#000" stroke="#000" stroke-width="0.25">R345</text>
<text transform="translate(149.0 265.6) rotate(19.7)" font-family="Liberation Sans, Arial, sans-serif" font-size="8.5" fill="#000" stroke="#000" stroke-width="0.25">R376</text>
<text transform="translate(132.0 293.6) rotate(31.8)" font-family="Liberation Sans, Arial, sans-serif" font-size="8.5" fill="#000" stroke="#000" stroke-width="0.25">H427</text></g>
<g font-family="Liberation Sans, Arial, sans-serif">
<path d="M284.5 9.5V152.5H567.5" fill="none" stroke="#2e2c2c" stroke-width="1.1"/>
<path d="M279.9 9.5H284.5" stroke="#2e2c2c" stroke-width="1"/>
<path d="M279.9 44.4H284.5" stroke="#2e2c2c" stroke-width="1"/>
<path d="M279.9 79.3H284.5" stroke="#2e2c2c" stroke-width="1"/>
<path d="M279.9 114.2H284.5" stroke="#2e2c2c" stroke-width="1"/>
<path d="M279.9 149.1H284.5" stroke="#2e2c2c" stroke-width="1"/>
<text x="279" y="12.7" text-anchor="end" font-size="11.3" fill="#231f20">800</text>
<text x="279" y="47.6" text-anchor="end" font-size="11.3" fill="#231f20">600</text>
<text x="279" y="82.5" text-anchor="end" font-size="11.3" fill="#231f20">400</text>
<text x="279" y="117.4" text-anchor="end" font-size="11.3" fill="#231f20">200</text>
<text x="279" y="152.3" text-anchor="end" font-size="11.3" fill="#231f20">0</text>
<rect x="287.00" y="61.50" width="18.30" height="91.00" fill="#3b3838"/>
<rect x="310.55" y="53.30" width="18.30" height="99.20" fill="#3b3838"/>
<rect x="334.10" y="79.50" width="18.30" height="73.00" fill="#3b3838"/>
<rect x="357.65" y="104.20" width="18.30" height="48.30" fill="#3b3838"/>
<rect x="381.20" y="106.90" width="18.30" height="45.60" fill="#3b3838"/>
<rect x="404.75" y="70.00" width="18.30" height="82.50" fill="#3b3838"/>
<rect x="428.30" y="102.90" width="18.30" height="49.60" fill="#3b3838"/>
<rect x="451.85" y="35.10" width="18.30" height="117.40" fill="#3b3838"/>
<rect x="475.40" y="141.90" width="18.30" height="10.60" fill="#3b3838"/>
<rect x="498.95" y="141.90" width="18.30" height="10.60" fill="#3b3838"/>
<rect x="522.50" y="136.10" width="18.30" height="16.40" fill="#3b3838"/>
<rect x="546.05" y="134.90" width="18.30" height="17.60" fill="#3b3838"/>
<path d="M296.1 57.3V65.7M292.9 57.3H299.3M292.9 65.7H299.3" stroke="#1a1818" stroke-width="0.9" fill="none"/>
<path d="M319.7 50.1V56.5M316.5 50.1H322.9M316.5 56.5H322.9" stroke="#1a1818" stroke-width="0.9" fill="none"/>
<path d="M343.2 77.9V81.1M340.1 77.9H346.4M340.1 81.1H346.4" stroke="#1a1818" stroke-width="0.9" fill="none"/>
<path d="M366.8 101.0V107.4M363.6 101.0H370.0M363.6 107.4H370.0" stroke="#1a1818" stroke-width="0.9" fill="none"/>
<path d="M390.3 102.7V111.1M387.1 102.7H393.5M387.1 111.1H393.5" stroke="#1a1818" stroke-width="0.9" fill="none"/>
<path d="M413.9 66.5V73.5M410.7 66.5H417.1M410.7 73.5H417.1" stroke="#1a1818" stroke-width="0.9" fill="none"/>
<path d="M437.4 100.7V105.1M434.2 100.7H440.6M434.2 105.1H440.6" stroke="#1a1818" stroke-width="0.9" fill="none"/>
<path d="M461.0 31.9V38.3M457.8 31.9H464.2M457.8 38.3H464.2" stroke="#1a1818" stroke-width="0.9" fill="none"/>
<path d="M484.5 140.7V143.1M481.3 140.7H487.7M481.3 143.1H487.7" stroke="#1a1818" stroke-width="0.9" fill="none"/>
<path d="M508.1 140.1V143.7M504.9 140.1H511.3M504.9 143.7H511.3" stroke="#1a1818" stroke-width="0.9" fill="none"/>
<path d="M531.6 133.1V139.1M528.4 133.1H534.9M528.4 139.1H534.9" stroke="#1a1818" stroke-width="0.9" fill="none"/>
<path d="M555.2 133.3V136.5M552.0 133.3H558.4M552.0 136.5H558.4" stroke="#1a1818" stroke-width="0.9" fill="none"/>
<g fill="#fff" stroke="#3a3737" stroke-width="0.65"><circle cx="296.9" cy="30.9" r="1.45"/><circle cx="294.6" cy="43.8" r="1.45"/><circle cx="300.3" cy="48.7" r="1.45"/><circle cx="290.8" cy="55.1" r="1.45"/><circle cx="293.0" cy="55.1" r="1.45"/><circle cx="295.8" cy="55.7" r="1.45"/><circle cx="298.3" cy="54.4" r="1.45"/><circle cx="295.3" cy="64.1" r="1.45"/><circle cx="299.2" cy="69.8" r="1.45"/><circle cx="296.9" cy="73.8" r="1.45"/><circle cx="301.6" cy="73.8" r="1.45"/><circle cx="292.4" cy="75.4" r="1.45"/><circle cx="289.7" cy="78.1" r="1.45"/><circle cx="295.8" cy="82.9" r="1.45"/><circle cx="315.2" cy="38.1" r="1.45"/><circle cx="317.5" cy="38.1" r="1.45"/><circle cx="319.5" cy="39.2" r="1.45"/><circle cx="323.6" cy="41.5" r="1.45"/><circle cx="321.3" cy="43.3" r="1.45"/><circle cx="313.4" cy="44.4" r="1.45"/><circle cx="323.6" cy="46.7" r="1.45"/><circle cx="325.4" cy="48.3" r="1.45"/><circle cx="317.9" cy="51.7" r="1.45"/><circle cx="320.2" cy="51.7" r="1.45"/><circle cx="315.7" cy="56.2" r="1.45"/><circle cx="322.5" cy="62.5" r="1.45"/><circle cx="317.9" cy="65.9" r="1.45"/><circle cx="320.2" cy="67.5" r="1.45"/><circle cx="316.4" cy="75.4" r="1.45"/><circle cx="319.5" cy="82.9" r="1.45"/><circle cx="340.6" cy="69.8" r="1.45"/><circle cx="338.3" cy="72.5" r="1.45"/><circle cx="342.8" cy="74.3" r="1.45"/><circle cx="336.5" cy="79.3" r="1.45"/><circle cx="339.4" cy="80.0" r="1.45"/><circle cx="342.4" cy="78.8" r="1.45"/><circle cx="345.1" cy="79.3" r="1.45"/><circle cx="349.2" cy="77.7" r="1.45"/><circle cx="347.3" cy="79.3" r="1.45"/><circle cx="341.7" cy="82.2" r="1.45"/><circle cx="345.5" cy="82.9" r="1.45"/><circle cx="342.8" cy="97.6" r="1.45"/><circle cx="368.0" cy="88.3" r="1.45"/><circle cx="365.3" cy="91.0" r="1.45"/><circle cx="370.3" cy="92.1" r="1.45"/><circle cx="361.9" cy="95.7" r="1.45"/><circle cx="360.3" cy="97.3" r="1.45"/><circle cx="369.2" cy="98.5" r="1.45"/><circle cx="364.2" cy="105.2" r="1.45"/><circle cx="371.6" cy="108.6" r="1.45"/><circle cx="361.9" cy="114.8" r="1.45"/><circle cx="368.0" cy="115.4" r="1.45"/><circle cx="365.3" cy="120.0" r="1.45"/><circle cx="370.5" cy="120.0" r="1.45"/><circle cx="386.4" cy="86.7" r="1.45"/><circle cx="390.2" cy="87.6" r="1.45"/><circle cx="392.5" cy="92.4" r="1.45"/><circle cx="387.9" cy="93.9" r="1.45"/><circle cx="394.3" cy="95.5" r="1.45"/><circle cx="387.9" cy="98.9" r="1.45"/><circle cx="390.2" cy="101.9" r="1.45"/><circle cx="394.0" cy="102.3" r="1.45"/><circle cx="386.4" cy="113.6" r="1.45"/><circle cx="391.8" cy="114.3" r="1.45"/><circle cx="395.9" cy="115.9" r="1.45"/><circle cx="384.5" cy="117.0" r="1.45"/><circle cx="389.1" cy="117.7" r="1.45"/><circle cx="386.4" cy="119.5" r="1.45"/><circle cx="390.2" cy="119.3" r="1.45"/><circle cx="394.3" cy="120.0" r="1.45"/><circle cx="392.0" cy="121.1" r="1.45"/><circle cx="412.9" cy="51.4" r="1.45"/><circle cx="414.7" cy="59.3" r="1.45"/><circle cx="409.5" cy="62.2" r="1.45"/><circle cx="407.9" cy="64.0" r="1.45"/><circle cx="414.0" cy="65.2" r="1.45"/><circle cx="415.8" cy="67.9" r="1.45"/><circle cx="414.0" cy="72.4" r="1.45"/><circle cx="419.9" cy="73.1" r="1.45"/><circle cx="417.6" cy="76.9" r="1.45"/><circle cx="411.3" cy="78.1" r="1.45"/><circle cx="413.5" cy="94.4" r="1.45"/><circle cx="436.4" cy="91.0" r="1.45"/><circle cx="438.3" cy="93.1" r="1.45"/><circle cx="433.5" cy="98.7" r="1.45"/><circle cx="432.4" cy="99.9" r="1.45"/><circle cx="438.0" cy="101.7" r="1.45"/><circle cx="436.4" cy="103.9" r="1.45"/><circle cx="441.0" cy="104.4" r="1.45"/><circle cx="443.9" cy="105.1" r="1.45"/><circle cx="441.0" cy="107.3" r="1.45"/><circle cx="430.8" cy="110.0" r="1.45"/><circle cx="439.4" cy="111.9" r="1.45"/><circle cx="454.8" cy="21.5" r="1.45"/><circle cx="457.0" cy="23.3" r="1.45"/><circle cx="461.1" cy="22.2" r="1.45"/><circle cx="464.0" cy="24.2" r="1.45"/><circle cx="466.1" cy="24.9" r="1.45"/><circle cx="457.2" cy="30.1" r="1.45"/><circle cx="464.0" cy="34.6" r="1.45"/><circle cx="461.8" cy="37.8" r="1.45"/><circle cx="460.0" cy="40.0" r="1.45"/><circle cx="458.4" cy="45.2" r="1.45"/><circle cx="462.9" cy="47.5" r="1.45"/><circle cx="460.6" cy="49.8" r="1.45"/><circle cx="460.6" cy="64.0" r="1.45"/><circle cx="481.7" cy="132.2" r="1.45"/><circle cx="479.4" cy="138.3" r="1.45"/><circle cx="488.5" cy="139.5" r="1.45"/><circle cx="478.3" cy="142.4" r="1.45"/><circle cx="480.6" cy="142.9" r="1.45"/><circle cx="483.3" cy="141.9" r="1.45"/><circle cx="485.5" cy="142.4" r="1.45"/><circle cx="488.0" cy="142.9" r="1.45"/><circle cx="490.7" cy="143.5" r="1.45"/><circle cx="482.8" cy="145.8" r="1.45"/><circle cx="485.5" cy="145.8" r="1.45"/><circle cx="488.5" cy="145.1" r="1.45"/><circle cx="507.7" cy="130.5" r="1.45"/><circle cx="511.6" cy="132.8" r="1.45"/><circle cx="505.4" cy="137.2" r="1.45"/><circle cx="507.2" cy="137.2" r="1.45"/><circle cx="504.2" cy="138.8" r="1.45"/><circle cx="509.0" cy="138.4" r="1.45"/><circle cx="514.6" cy="141.4" r="1.45"/><circle cx="509.3" cy="145.5" r="1.45"/><circle cx="513.0" cy="146.0" r="1.45"/><circle cx="501.4" cy="147.2" r="1.45"/><circle cx="505.4" cy="148.1" r="1.45"/><circle cx="510.4" cy="148.5" r="1.45"/><circle cx="535.7" cy="121.7" r="1.45"/><circle cx="529.7" cy="124.7" r="1.45"/><circle cx="531.5" cy="124.7" r="1.45"/><circle cx="527.5" cy="129.6" r="1.45"/><circle cx="533.6" cy="131.7" r="1.45"/><circle cx="537.7" cy="132.6" r="1.45"/><circle cx="525.3" cy="135.8" r="1.45"/><circle cx="529.7" cy="139.8" r="1.45"/><circle cx="531.5" cy="141.9" r="1.45"/><circle cx="533.6" cy="143.3" r="1.45"/><circle cx="535.7" cy="144.6" r="1.45"/><circle cx="527.5" cy="149.3" r="1.45"/><circle cx="531.5" cy="149.9" r="1.45"/><circle cx="555.1" cy="127.9" r="1.45"/><circle cx="561.8" cy="131.7" r="1.45"/><circle cx="551.7" cy="132.3" r="1.45"/><circle cx="558.3" cy="132.6" r="1.45"/><circle cx="553.9" cy="134.0" r="1.45"/><circle cx="556.9" cy="135.8" r="1.45"/><circle cx="550.3" cy="136.7" r="1.45"/><circle cx="548.9" cy="138.9" r="1.45"/><circle cx="560.0" cy="142.8" r="1.45"/></g>
<path d="M284.5 167.5V310.9H567" fill="none" stroke="#2e2c2c" stroke-width="1.1"/>
<path d="M279.9 167.5H284.5" stroke="#2e2c2c" stroke-width="1"/>
<path d="M279.9 215.1H284.5" stroke="#2e2c2c" stroke-width="1"/>
<path d="M279.9 263.0H284.5" stroke="#2e2c2c" stroke-width="1"/>
<path d="M279.9 310.9H284.5" stroke="#2e2c2c" stroke-width="1"/>
<text x="278" y="171.4" text-anchor="end" font-size="11.3" fill="#231f20">1200</text>
<text x="278" y="219.0" text-anchor="end" font-size="11.3" fill="#231f20">800</text>
<text x="278" y="266.9" text-anchor="end" font-size="11.3" fill="#231f20">400</text>
<text x="278" y="314.8" text-anchor="end" font-size="11.3" fill="#231f20">0</text>
<rect x="287.10" y="191.70" width="18.30" height="119.20" fill="#c9c5c4" stroke="#3b3838" stroke-width="1"/>
<rect x="310.65" y="197.20" width="18.30" height="113.70" fill="#c9c5c4" stroke="#3b3838" stroke-width="1"/>
<rect x="334.20" y="202.90" width="18.30" height="108.00" fill="#c9c5c4" stroke="#3b3838" stroke-width="1"/>
<rect x="357.75" y="205.50" width="18.30" height="105.40" fill="#c9c5c4" stroke="#3b3838" stroke-width="1"/>
<rect x="381.30" y="195.50" width="18.30" height="115.40" fill="#c9c5c4" stroke="#3b3838" stroke-width="1"/>
<rect x="404.85" y="191.30" width="18.30" height="119.60" fill="#c9c5c4" stroke="#3b3838" stroke-width="1"/>
<rect x="428.40" y="212.80" width="18.30" height="98.10" fill="#c9c5c4" stroke="#3b3838" stroke-width="1"/>
<rect x="451.95" y="192.60" width="18.30" height="118.30" fill="#c9c5c4" stroke="#3b3838" stroke-width="1"/>
<rect x="475.50" y="207.30" width="18.30" height="103.60" fill="#c9c5c4" stroke="#3b3838" stroke-width="1"/>
<rect x="499.05" y="211.90" width="18.30" height="99.00" fill="#c9c5c4" stroke="#3b3838" stroke-width="1"/>
<rect x="522.60" y="204.90" width="18.30" height="106.00" fill="#c9c5c4" stroke="#3b3838" stroke-width="1"/>
<rect x="546.15" y="206.60" width="18.30" height="104.30" fill="#c9c5c4" stroke="#3b3838" stroke-width="1"/>
<path d="M296.2 189.7V192.7M293.1 189.7H299.4M293.1 192.7H299.4" stroke="#1a1818" stroke-width="0.9" fill="none"/>
<path d="M319.8 195.4V198.0M316.6 195.4H323.0M316.6 198.0H323.0" stroke="#1a1818" stroke-width="0.9" fill="none"/>
<path d="M343.4 200.6V204.2M340.2 200.6H346.6M340.2 204.2H346.6" stroke="#1a1818" stroke-width="0.9" fill="none"/>
<path d="M366.9 203.2V206.8M363.7 203.2H370.1M363.7 206.8H370.1" stroke="#1a1818" stroke-width="0.9" fill="none"/>
<path d="M390.4 194.1V195.9M387.2 194.1H393.6M387.2 195.9H393.6" stroke="#1a1818" stroke-width="0.9" fill="none"/>
<path d="M414.0 189.2V192.4M410.8 189.2H417.2M410.8 192.4H417.2" stroke="#1a1818" stroke-width="0.9" fill="none"/>
<path d="M437.6 210.7V213.9M434.4 210.7H440.8M434.4 213.9H440.8" stroke="#1a1818" stroke-width="0.9" fill="none"/>
<path d="M461.1 189.7V194.5M457.9 189.7H464.3M457.9 194.5H464.3" stroke="#1a1818" stroke-width="0.9" fill="none"/>
<path d="M484.6 205.5V208.1M481.4 205.5H487.8M481.4 208.1H487.8" stroke="#1a1818" stroke-width="0.9" fill="none"/>
<path d="M508.2 209.4V213.4M505.0 209.4H511.4M505.0 213.4H511.4" stroke="#1a1818" stroke-width="0.9" fill="none"/>
<path d="M531.8 203.5V205.3M528.5 203.5H535.0M528.5 205.3H535.0" stroke="#1a1818" stroke-width="0.9" fill="none"/>
<path d="M555.3 204.8V207.4M552.1 204.8H558.5M552.1 207.4H558.5" stroke="#1a1818" stroke-width="0.9" fill="none"/>
<g fill="#fff" stroke="#3a3737" stroke-width="0.65"><circle cx="295.9" cy="184.8" r="1.45"/><circle cx="295.9" cy="187.2" r="1.45"/><circle cx="290.9" cy="189.2" r="1.45"/><circle cx="300.3" cy="188.8" r="1.45"/><circle cx="295.9" cy="190.7" r="1.45"/><circle cx="290.9" cy="194.1" r="1.45"/><circle cx="295.9" cy="194.7" r="1.45"/><circle cx="300.3" cy="194.5" r="1.45"/><circle cx="295.9" cy="199.9" r="1.45"/><circle cx="319.6" cy="191.3" r="1.45"/><circle cx="325.1" cy="193.8" r="1.45"/><circle cx="317.3" cy="194.5" r="1.45"/><circle cx="321.1" cy="194.5" r="1.45"/><circle cx="314.2" cy="197.0" r="1.45"/><circle cx="319.6" cy="197.6" r="1.45"/><circle cx="317.3" cy="199.5" r="1.45"/><circle cx="322.3" cy="199.9" r="1.45"/><circle cx="319.6" cy="203.9" r="1.45"/><circle cx="344.7" cy="193.8" r="1.45"/><circle cx="341.5" cy="197.4" r="1.45"/><circle cx="339.7" cy="198.9" r="1.45"/><circle cx="345.8" cy="200.5" r="1.45"/><circle cx="348.7" cy="200.8" r="1.45"/><circle cx="343.0" cy="201.6" r="1.45"/><circle cx="337.4" cy="203.3" r="1.45"/><circle cx="341.5" cy="205.2" r="1.45"/><circle cx="344.6" cy="204.5" r="1.45"/><circle cx="341.8" cy="212.4" r="1.45"/><circle cx="344.3" cy="212.4" r="1.45"/><circle cx="365.1" cy="197.9" r="1.45"/><circle cx="368.2" cy="197.9" r="1.45"/><circle cx="372.0" cy="198.5" r="1.45"/><circle cx="361.2" cy="201.1" r="1.45"/><circle cx="363.2" cy="205.5" r="1.45"/><circle cx="366.6" cy="206.0" r="1.45"/><circle cx="370.0" cy="208.3" r="1.45"/><circle cx="366.6" cy="211.4" r="1.45"/><circle cx="363.0" cy="213.9" r="1.45"/><circle cx="370.0" cy="214.6" r="1.45"/><circle cx="390.2" cy="192.3" r="1.45"/><circle cx="395.8" cy="193.8" r="1.45"/><circle cx="384.5" cy="194.5" r="1.45"/><circle cx="387.7" cy="195.1" r="1.45"/><circle cx="392.9" cy="194.8" r="1.45"/><circle cx="389.2" cy="198.2" r="1.45"/><circle cx="391.4" cy="198.0" r="1.45"/><circle cx="413.9" cy="183.8" r="1.45"/><circle cx="413.9" cy="187.9" r="1.45"/><circle cx="408.4" cy="192.0" r="1.45"/><circle cx="413.9" cy="191.6" r="1.45"/><circle cx="415.6" cy="192.0" r="1.45"/><circle cx="411.8" cy="195.5" r="1.45"/><circle cx="418.9" cy="195.1" r="1.45"/><circle cx="437.2" cy="203.5" r="1.45"/><circle cx="434.4" cy="205.5" r="1.45"/><circle cx="436.6" cy="205.8" r="1.45"/><circle cx="440.1" cy="208.3" r="1.45"/><circle cx="434.7" cy="212.3" r="1.45"/><circle cx="437.2" cy="212.3" r="1.45"/><circle cx="439.7" cy="212.7" r="1.45"/><circle cx="434.7" cy="215.8" r="1.45"/><circle cx="437.2" cy="218.1" r="1.45"/><circle cx="443.1" cy="217.7" r="1.45"/><circle cx="431.8" cy="219.8" r="1.45"/><circle cx="440.1" cy="220.2" r="1.45"/><circle cx="460.8" cy="181.3" r="1.45"/><circle cx="456.0" cy="184.8" r="1.45"/><circle cx="458.5" cy="186.1" r="1.45"/><circle cx="465.8" cy="185.1" r="1.45"/><circle cx="460.8" cy="191.3" r="1.45"/><circle cx="462.9" cy="191.3" r="1.45"/><circle cx="460.8" cy="194.1" r="1.45"/><circle cx="456.0" cy="198.9" r="1.45"/><circle cx="460.8" cy="198.9" r="1.45"/><circle cx="465.8" cy="198.2" r="1.45"/><circle cx="460.8" cy="206.8" r="1.45"/><circle cx="481.8" cy="203.3" r="1.45"/><circle cx="486.8" cy="202.6" r="1.45"/><circle cx="479.9" cy="205.2" r="1.45"/><circle cx="484.9" cy="205.8" r="1.45"/><circle cx="489.1" cy="205.8" r="1.45"/><circle cx="484.7" cy="210.2" r="1.45"/><circle cx="489.1" cy="209.5" r="1.45"/><circle cx="479.7" cy="214.8" r="1.45"/><circle cx="507.9" cy="203.3" r="1.45"/><circle cx="506.4" cy="206.4" r="1.45"/><circle cx="502.7" cy="209.2" r="1.45"/><circle cx="509.8" cy="208.7" r="1.45"/><circle cx="507.9" cy="210.8" r="1.45"/><circle cx="513.0" cy="211.7" r="1.45"/><circle cx="506.1" cy="212.9" r="1.45"/><circle cx="508.6" cy="212.7" r="1.45"/><circle cx="507.6" cy="229.6" r="1.45"/><circle cx="529.7" cy="201.1" r="1.45"/><circle cx="526.2" cy="202.9" r="1.45"/><circle cx="533.7" cy="202.6" r="1.45"/><circle cx="537.2" cy="202.0" r="1.45"/><circle cx="529.3" cy="205.2" r="1.45"/><circle cx="537.2" cy="204.9" r="1.45"/><circle cx="526.2" cy="208.3" r="1.45"/><circle cx="533.4" cy="208.0" r="1.45"/><circle cx="553.5" cy="201.4" r="1.45"/><circle cx="556.9" cy="202.4" r="1.45"/><circle cx="560.4" cy="204.5" r="1.45"/><circle cx="550.0" cy="205.8" r="1.45"/><circle cx="553.8" cy="206.4" r="1.45"/><circle cx="553.5" cy="210.8" r="1.45"/><circle cx="556.9" cy="215.2" r="1.45"/></g>
<path d="M599.5 23.5V152.3H683.8" fill="none" stroke="#2e2c2c" stroke-width="1.1"/>
<path d="M594.9 37.4H599.5" stroke="#2e2c2c" stroke-width="1"/>
<path d="M594.9 64.6H599.5" stroke="#2e2c2c" stroke-width="1"/>
<path d="M594.9 92.0H599.5" stroke="#2e2c2c" stroke-width="1"/>
<path d="M594.9 119.5H599.5" stroke="#2e2c2c" stroke-width="1"/>
<path d="M594.9 147.1H599.5" stroke="#2e2c2c" stroke-width="1"/>
<text x="593.5" y="41.0" text-anchor="end" font-size="11.3" fill="#231f20">400</text>
<text x="593.5" y="95.6" text-anchor="end" font-size="11.3" fill="#231f20">200</text>
<text x="593.5" y="150.7" text-anchor="end" font-size="11.3" fill="#231f20">0</text>
<rect x="601.40" y="66.00" width="16.40" height="86.30" fill="#3b3838"/>
<rect x="622.48" y="77.70" width="16.40" height="74.60" fill="#3b3838"/>
<rect x="643.56" y="132.20" width="16.40" height="20.10" fill="#3b3838"/>
<rect x="664.64" y="132.60" width="16.40" height="19.70" fill="#3b3838"/>
<path d="M609.6 62.0V70.0M606.4 62.0H612.8M606.4 70.0H612.8" stroke="#1a1818" stroke-width="0.9" fill="none"/>
<path d="M630.7 71.5V83.9M627.5 71.5H633.9M627.5 83.9H633.9" stroke="#1a1818" stroke-width="0.9" fill="none"/>
<path d="M651.8 130.6V133.8M648.6 130.6H655.0M648.6 133.8H655.0" stroke="#1a1818" stroke-width="0.9" fill="none"/>
<path d="M672.8 130.8V134.4M669.6 130.8H676.0M669.6 134.4H676.0" stroke="#1a1818" stroke-width="0.9" fill="none"/>
<g fill="#fff" stroke="#3a3737" stroke-width="0.65"><circle cx="609.6" cy="50.5" r="1.45"/><circle cx="608.2" cy="51.9" r="1.45"/><circle cx="604.4" cy="55.2" r="1.45"/><circle cx="615.4" cy="59.3" r="1.45"/><circle cx="613.2" cy="59.3" r="1.45"/><circle cx="611.0" cy="59.9" r="1.45"/><circle cx="609.0" cy="60.7" r="1.45"/><circle cx="606.3" cy="62.9" r="1.45"/><circle cx="609.9" cy="77.3" r="1.45"/><circle cx="609.9" cy="81.4" r="1.45"/><circle cx="608.2" cy="87.5" r="1.45"/><circle cx="611.8" cy="89.2" r="1.45"/><circle cx="629.2" cy="48.3" r="1.45"/><circle cx="632.5" cy="49.7" r="1.45"/><circle cx="630.6" cy="62.1" r="1.45"/><circle cx="625.6" cy="68.5" r="1.45"/><circle cx="632.5" cy="68.5" r="1.45"/><circle cx="629.2" cy="75.1" r="1.45"/><circle cx="635.3" cy="75.1" r="1.45"/><circle cx="629.2" cy="93.9" r="1.45"/><circle cx="632.5" cy="97.2" r="1.45"/><circle cx="632.5" cy="107.1" r="1.45"/><circle cx="629.2" cy="109.9" r="1.45"/><circle cx="654.6" cy="123.7" r="1.45"/><circle cx="646.3" cy="127.0" r="1.45"/><circle cx="648.3" cy="127.8" r="1.45"/><circle cx="653.2" cy="129.0" r="1.45"/><circle cx="649.9" cy="130.3" r="1.45"/><circle cx="656.0" cy="130.3" r="1.45"/><circle cx="657.4" cy="131.2" r="1.45"/><circle cx="651.9" cy="132.5" r="1.45"/><circle cx="652.7" cy="134.8" r="1.45"/><circle cx="650.5" cy="136.7" r="1.45"/><circle cx="651.9" cy="148.3" r="1.45"/><circle cx="678.1" cy="124.3" r="1.45"/><circle cx="667.6" cy="125.6" r="1.45"/><circle cx="669.3" cy="126.2" r="1.45"/><circle cx="673.1" cy="126.5" r="1.45"/><circle cx="675.3" cy="127.0" r="1.45"/><circle cx="676.7" cy="130.3" r="1.45"/><circle cx="671.2" cy="131.2" r="1.45"/><circle cx="673.1" cy="132.5" r="1.45"/><circle cx="671.2" cy="136.1" r="1.45"/><circle cx="672.6" cy="136.7" r="1.45"/><circle cx="674.0" cy="145.0" r="1.45"/><circle cx="672.6" cy="147.2" r="1.45"/></g>
<path d="M600.7 182V311.1H682.5" fill="none" stroke="#2e2c2c" stroke-width="1.1"/>
<path d="M596.1 182H600.7" stroke="#2e2c2c" stroke-width="1"/>
<path d="M596.1 225.1H600.7" stroke="#2e2c2c" stroke-width="1"/>
<path d="M596.1 268.1H600.7" stroke="#2e2c2c" stroke-width="1"/>
<path d="M596.1 311.1H600.7" stroke="#2e2c2c" stroke-width="1"/>
<text x="594" y="185.6" text-anchor="end" font-size="11.3" fill="#231f20">1200</text>
<text x="594" y="228.7" text-anchor="end" font-size="11.3" fill="#231f20">800</text>
<text x="594" y="271.7" text-anchor="end" font-size="11.3" fill="#231f20">400</text>
<text x="594" y="314.7" text-anchor="end" font-size="11.3" fill="#231f20">0</text>
<rect x="602.80" y="231.70" width="15.50" height="79.40" fill="#c9c5c4" stroke="#3b3838" stroke-width="1"/>
<rect x="623.60" y="233.80" width="15.50" height="77.30" fill="#c9c5c4" stroke="#3b3838" stroke-width="1"/>
<rect x="644.40" y="218.90" width="15.50" height="92.20" fill="#c9c5c4" stroke="#3b3838" stroke-width="1"/>
<rect x="665.20" y="219.80" width="15.50" height="91.30" fill="#c9c5c4" stroke="#3b3838" stroke-width="1"/>
<path d="M610.5 230.0V232.4M607.3 230.0H613.8M607.3 232.4H613.8" stroke="#1a1818" stroke-width="0.9" fill="none"/>
<path d="M631.3 231.5V235.1M628.1 231.5H634.5M628.1 235.1H634.5" stroke="#1a1818" stroke-width="0.9" fill="none"/>
<path d="M652.1 216.9V219.9M648.9 216.9H655.4M648.9 219.9H655.4" stroke="#1a1818" stroke-width="0.9" fill="none"/>
<path d="M672.9 217.9V220.7M669.7 217.9H676.1M669.7 220.7H676.1" stroke="#1a1818" stroke-width="0.9" fill="none"/>
<g fill="#fff" stroke="#3a3737" stroke-width="0.65"><circle cx="610.7" cy="224.4" r="1.45"/><circle cx="610.1" cy="227.3" r="1.45"/><circle cx="609.2" cy="229.0" r="1.45"/><circle cx="613.0" cy="230.5" r="1.45"/><circle cx="616.4" cy="231.1" r="1.45"/><circle cx="605.6" cy="232.8" r="1.45"/><circle cx="610.7" cy="232.4" r="1.45"/><circle cx="607.5" cy="234.3" r="1.45"/><circle cx="612.6" cy="234.9" r="1.45"/><circle cx="631.3" cy="223.9" r="1.45"/><circle cx="629.8" cy="225.8" r="1.45"/><circle cx="632.9" cy="227.1" r="1.45"/><circle cx="634.2" cy="233.4" r="1.45"/><circle cx="628.5" cy="234.9" r="1.45"/><circle cx="631.3" cy="234.5" r="1.45"/><circle cx="632.9" cy="236.2" r="1.45"/><circle cx="636.1" cy="236.6" r="1.45"/><circle cx="626.6" cy="239.4" r="1.45"/><circle cx="629.8" cy="240.6" r="1.45"/><circle cx="650.7" cy="213.3" r="1.45"/><circle cx="653.6" cy="212.4" r="1.45"/><circle cx="656.4" cy="214.2" r="1.45"/><circle cx="647.5" cy="217.1" r="1.45"/><circle cx="650.3" cy="217.1" r="1.45"/><circle cx="653.6" cy="219.7" r="1.45"/><circle cx="650.3" cy="222.6" r="1.45"/><circle cx="656.4" cy="222.9" r="1.45"/><circle cx="647.3" cy="225.1" r="1.45"/><circle cx="671.0" cy="213.3" r="1.45"/><circle cx="672.9" cy="212.7" r="1.45"/><circle cx="674.6" cy="214.2" r="1.45"/><circle cx="671.0" cy="219.7" r="1.45"/><circle cx="674.6" cy="219.4" r="1.45"/><circle cx="671.4" cy="222.2" r="1.45"/><circle cx="675.5" cy="221.6" r="1.45"/><circle cx="677.8" cy="222.9" r="1.45"/><circle cx="667.5" cy="224.8" r="1.45"/></g>
<text transform="translate(246.6 103.3) rotate(-90)" text-anchor="middle" font-size="13.5" fill="#231f20">EGFP</text>
<text transform="translate(246.6 237.5) rotate(-90)" text-anchor="middle" font-size="13.5" fill="#231f20">DiD</text>
<text x="373.5" y="20" font-size="14.1" fill="#231f20">PI(4,5)P<tspan font-size="8.8" dy="4.8">2</tspan></text>
<text x="628" y="33.7" font-size="14.1" fill="#231f20">PI(3,5)P<tspan font-size="8.8" dy="4.8">2</tspan></text>
<text x="-0.3" y="14.4" font-size="19.2" font-weight="bold" fill="#000">a</text>
<text x="227.2" y="14.4" font-size="19.6" font-weight="bold" fill="#000">b</text>
<text transform="translate(301.2 321.7) rotate(-50)" text-anchor="end" font-size="14" fill="#231f20">WT</text>
<text transform="translate(324.8 321.7) rotate(-50)" text-anchor="end" font-size="14" fill="#231f20">K342E</text>
<text transform="translate(348.4 321.7) rotate(-50)" text-anchor="end" font-size="14" fill="#231f20">R345A</text>
<text transform="translate(371.9 321.7) rotate(-50)" text-anchor="end" font-size="14" fill="#231f20">R345D</text>
<text transform="translate(395.4 321.7) rotate(-50)" text-anchor="end" font-size="14" fill="#231f20">K348E</text>
<text transform="translate(419.0 321.7) rotate(-50)" text-anchor="end" font-size="14" fill="#231f20">R376A</text>
<text transform="translate(442.6 321.7) rotate(-50)" text-anchor="end" font-size="14" fill="#231f20">H427D</text>
<text transform="translate(466.1 321.7) rotate(-50)" text-anchor="end" font-size="14" fill="#231f20">R345A/R376A</text>
<text transform="translate(489.6 321.7) rotate(-50)" text-anchor="end" font-size="14" fill="#231f20">K342E/K348E</text>
<text transform="translate(513.2 321.7) rotate(-50)" text-anchor="end" font-size="14" fill="#231f20">R345D/R376D</text>
<text transform="translate(536.8 321.7) rotate(-50)" text-anchor="end" font-size="14" fill="#231f20">R345D/H427D</text>
<text transform="translate(560.3 321.7) rotate(-50)" text-anchor="end" font-size="14" fill="#231f20"><tspan x="0" y="0">R345A/R376A/</tspan><tspan x="-23" y="18.8">H427D</tspan></text>
<text transform="translate(614.0 325) rotate(-50)" text-anchor="end" font-size="14" fill="#231f20">WT</text>
<text transform="translate(634.8 325) rotate(-50)" text-anchor="end" font-size="14" fill="#231f20">K342E/K348E</text>
<text transform="translate(655.6 325) rotate(-50)" text-anchor="end" font-size="14" fill="#231f20">R345D/H427D</text>
<text transform="translate(676.4 325) rotate(-50)" text-anchor="end" font-size="14" fill="#231f20"><tspan x="0" y="0">R345A/R376A/</tspan><tspan x="-23" y="18.8">H427D</tspan></text>
</g>
</svg>
</body></html>
